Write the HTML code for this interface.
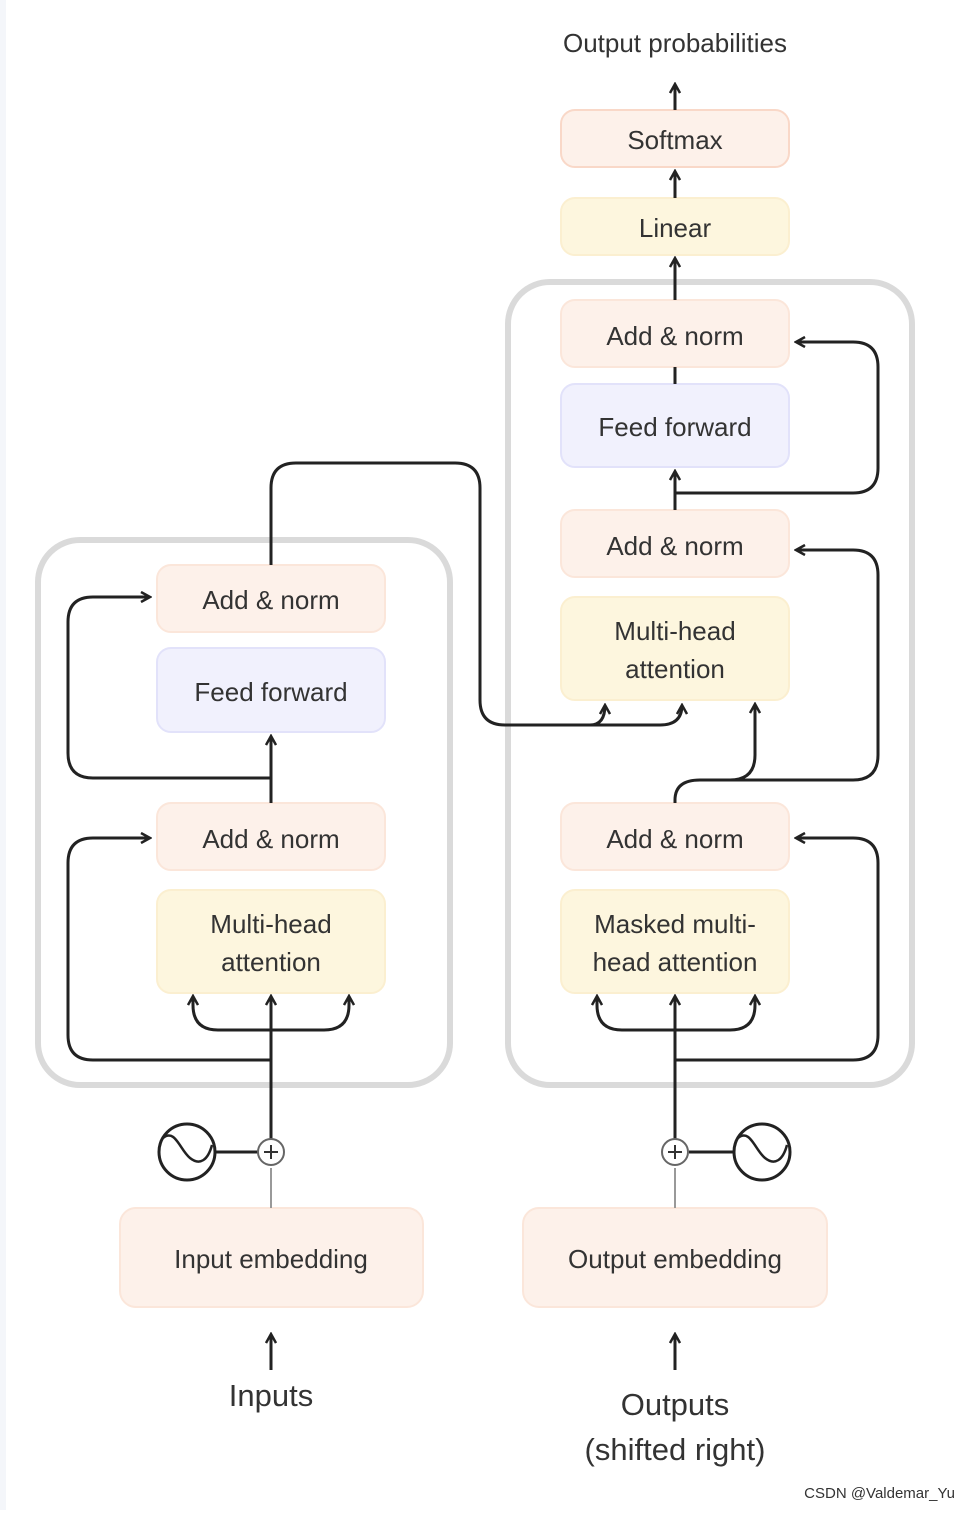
<!DOCTYPE html>
<html><head><meta charset="utf-8"><style>
html,body{margin:0;padding:0;background:#fff}
text{font-family:"Liberation Sans",sans-serif;fill:#333}
</style></head><body>
<svg width="969" height="1510" viewBox="0 0 969 1510" xmlns="http://www.w3.org/2000/svg">
<defs>
<marker id="a" viewBox="0 0 12 12" refX="10" refY="6" markerWidth="12" markerHeight="12" markerUnits="userSpaceOnUse" orient="auto"><path d="M1,1 L10,6 L1,11" fill="none" stroke="#222" stroke-width="2.5"/></marker>
</defs>
<rect x="0" y="0" width="6" height="1510" fill="#f4f6fa"/>
<!-- containers -->
<rect x="38" y="540" width="412" height="545" rx="42" fill="none" stroke="#dadada" stroke-width="6"/>
<rect x="508" y="282" width="404" height="803" rx="42" fill="none" stroke="#dadada" stroke-width="6"/>
<g stroke-width="2">
<rect x="157" y="565" width="228" height="67" rx="14" fill="#fdf1ea" stroke="#fbe6da"/>
<rect x="157" y="648" width="228" height="84" rx="14" fill="#f1f1fd" stroke="#e2e2fa"/>
<rect x="157" y="803" width="228" height="67" rx="14" fill="#fdf1ea" stroke="#fbe6da"/>
<rect x="157" y="890" width="228" height="103" rx="14" fill="#fdf6de" stroke="#fbefd0"/>
<rect x="120" y="1208" width="303" height="99" rx="16" fill="#fdf1ea" stroke="#fbe6da"/>
<rect x="561" y="110" width="228" height="57" rx="14" fill="#fdf1ea" stroke="#f9d8c8"/>
<rect x="561" y="198" width="228" height="57" rx="14" fill="#fdf6de" stroke="#fbefd0"/>
<rect x="561" y="300" width="228" height="67" rx="14" fill="#fdf1ea" stroke="#fbe6da"/>
<rect x="561" y="384" width="228" height="83" rx="14" fill="#f1f1fd" stroke="#e2e2fa"/>
<rect x="561" y="510" width="228" height="67" rx="14" fill="#fdf1ea" stroke="#fbe6da"/>
<rect x="561" y="597" width="228" height="103" rx="14" fill="#fdf6de" stroke="#fbefd0"/>
<rect x="561" y="803" width="228" height="67" rx="14" fill="#fdf1ea" stroke="#fbe6da"/>
<rect x="561" y="890" width="228" height="103" rx="14" fill="#fdf6de" stroke="#fbefd0"/>
<rect x="523" y="1208" width="304" height="99" rx="16" fill="#fdf1ea" stroke="#fbe6da"/>
</g>
<g fill="none" stroke="#222" stroke-width="3">
<!-- encoder -->
<path d="M271,1139 V996" marker-end="url(#a)"/>
<path d="M271,1030 H218 Q193,1030 193,1005 V996" marker-end="url(#a)"/>
<path d="M271,1030 H324 Q349,1030 349,1005 V996" marker-end="url(#a)"/>
<path d="M271,1060 H93 Q68,1060 68,1035 V863 Q68,838 93,838 H150" marker-end="url(#a)"/>
<path d="M271,803 V736" marker-end="url(#a)"/>
<path d="M271,778 H93 Q68,778 68,753 V622 Q68,597 93,597 H150" marker-end="url(#a)"/>
<path d="M271,565 V488 Q271,463 296,463 H455 Q480,463 480,488 V700 Q480,725 505,725 H660 Q682,725 682,705" marker-end="url(#a)"/>
<path d="M590,725 Q605,725 605,705" marker-end="url(#a)"/>
<!-- decoder -->
<path d="M675,1139 V996" marker-end="url(#a)"/>
<path d="M675,1030 H622 Q597,1030 597,1005 V996" marker-end="url(#a)"/>
<path d="M675,1030 H730 Q755,1030 755,1005 V996" marker-end="url(#a)"/>
<path d="M675,1060 H853 Q878,1060 878,1035 V863 Q878,838 853,838 H796" marker-end="url(#a)"/>
<path d="M675,803 V800 Q675,780 700,780 H730 Q755,780 755,755 V704" marker-end="url(#a)"/>
<path d="M700,780 H853 Q878,780 878,755 V575 Q878,550 853,550 H796" marker-end="url(#a)"/>
<path d="M675,510 V471" marker-end="url(#a)"/>
<path d="M675,493 H853 Q878,493 878,468 V367 Q878,342 853,342 H796" marker-end="url(#a)"/>
<path d="M675,367 V384"/>
<path d="M675,300 V258" marker-end="url(#a)"/>
<path d="M675,198 V171" marker-end="url(#a)"/>
<path d="M675,110 V84" marker-end="url(#a)"/>
<path d="M271,1370 V1334" marker-end="url(#a)"/>
<path d="M675,1370 V1334" marker-end="url(#a)"/>
<!-- positional -->
<circle cx="187" cy="1152" r="28"/>
<path d="M163,1138 C175,1128 180,1150 190,1158 C200,1166 208,1160 212,1145" stroke-width="2.5"/>
<path d="M215,1152 H258"/>
<circle cx="762" cy="1152" r="28"/>
<path d="M738,1138 C750,1128 755,1150 765,1158 C775,1166 783,1160 787,1145" stroke-width="2.5"/>
<path d="M689,1152 H734"/>
</g>
<g fill="#fff" stroke="#666" stroke-width="2">
<circle cx="271" cy="1152" r="13"/><circle cx="675" cy="1152" r="13"/>
</g>
<g stroke="#333" stroke-width="2"><path d="M264,1152h14M271,1145v14M668,1152h14M675,1145v14"/></g>
<g stroke="#999" stroke-width="2"><path d="M271,1208V1168M675,1208V1168"/></g>
<g font-size="26" text-anchor="middle">
<text x="675" y="52">Output probabilities</text>
<text x="675" y="149">Softmax</text>
<text x="675" y="237">Linear</text>
<text x="675" y="345">Add &amp; norm</text>
<text x="675" y="436">Feed forward</text>
<text x="675" y="555">Add &amp; norm</text>
<text x="675" y="640">Multi-head</text>
<text x="675" y="678">attention</text>
<text x="675" y="848">Add &amp; norm</text>
<text x="675" y="933">Masked multi-</text>
<text x="675" y="971">head attention</text>
<text x="675" y="1268">Output embedding</text>
<text x="271" y="609">Add &amp; norm</text>
<text x="271" y="701">Feed forward</text>
<text x="271" y="848">Add &amp; norm</text>
<text x="271" y="933">Multi-head</text>
<text x="271" y="971">attention</text>
<text x="271" y="1268">Input embedding</text>
</g>
<g font-size="31" text-anchor="middle">
<text x="271" y="1406">Inputs</text>
<text x="675" y="1415">Outputs</text>
<text x="675" y="1460">(shifted right)</text>
</g>
<text x="955" y="1498" font-size="15" text-anchor="end" fill="#888">CSDN @Valdemar_Yu</text>
</svg>
</body></html>
